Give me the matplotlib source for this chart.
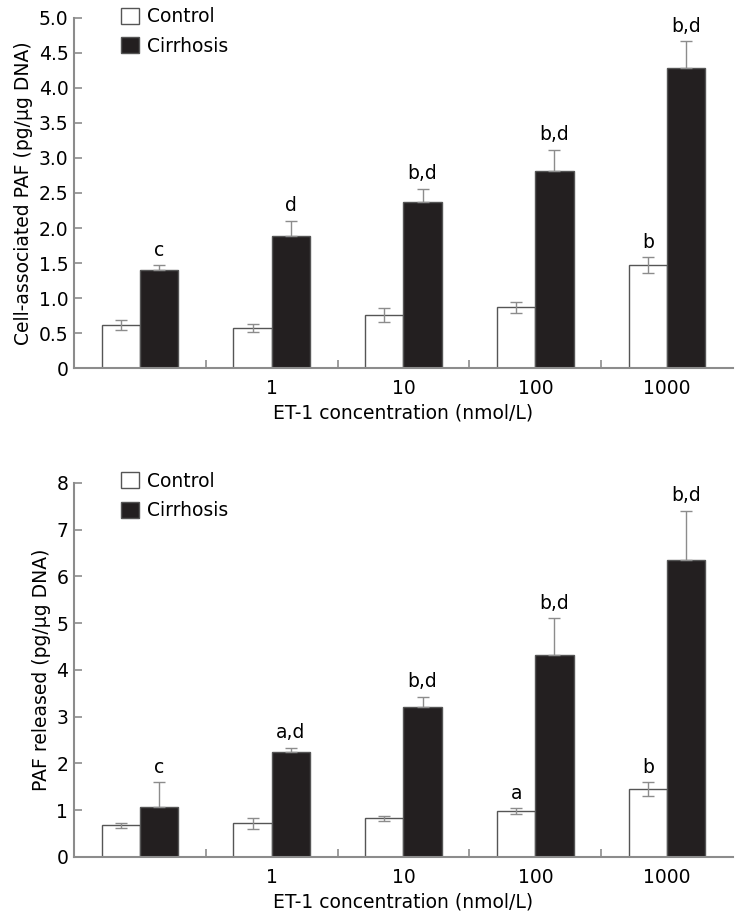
import matplotlib
matplotlib.use("Agg")
import matplotlib.pyplot as plt
import numpy as np

groups = ["", "1", "10", "100", "1000"]

# top panel: cell-associated PAF
top_control = [0.61, 0.57, 0.76, 0.87, 1.47]
top_control_err = [0.07, 0.06, 0.10, 0.08, 0.11]
top_cirr = [1.40, 1.89, 2.37, 2.81, 4.28]
top_cirr_err = [0.07, 0.21, 0.19, 0.31, 0.39]
top_control_lbl = ["", "", "", "", "b"]
top_cirr_lbl = ["c", "d", "b,d", "b,d", "b,d"]

# bottom panel: PAF released
bot_control = [0.68, 0.72, 0.83, 0.98, 1.45]
bot_control_err = [0.05, 0.12, 0.05, 0.06, 0.15]
bot_cirr = [1.07, 2.24, 3.20, 4.32, 6.35]
bot_cirr_err = [0.53, 0.10, 0.23, 0.79, 1.05]
bot_control_lbl = ["", "", "", "a", "b"]
bot_cirr_lbl = ["c", "a,d", "b,d", "b,d", "b,d"]

plt.rcParams['font.family'] = ['DejaVu Sans']
FS = 13.5

GRAY = "#8c8c8c"
BLACK = "#231f20"
W = 0.29


def panel(ax, control, control_err, cirr, cirr_err, c_lbl, r_lbl, ymax, yticks, yticklabels, ylabel):
    x = np.arange(len(groups))
    ax.bar(x - W / 2, control, W, color="white", edgecolor="#555555", linewidth=1.0,
           yerr=control_err, error_kw=dict(ecolor=GRAY, elinewidth=1.0, capsize=4, capthick=1.0),
           label="Control", zorder=2)
    ax.bar(x + W / 2, cirr, W, color=BLACK, edgecolor="#555555", linewidth=1.0,
           yerr=[np.zeros(len(cirr)), cirr_err],
           error_kw=dict(ecolor=GRAY, elinewidth=1.0, capsize=4, capthick=1.0),
           label="Cirrhosis", zorder=2)
    for i in range(len(groups)):
        if c_lbl[i]:
            ax.annotate(c_lbl[i], (x[i] - W / 2, control[i] + control_err[i]),
                        xytext=(0, 4), textcoords="offset points", ha="center", va="bottom", fontsize=FS)
        if r_lbl[i]:
            ax.annotate(r_lbl[i], (x[i] + W / 2, cirr[i] + cirr_err[i]),
                        xytext=(0, 4), textcoords="offset points", ha="center", va="bottom", fontsize=FS)

    ax.set_xlim(-0.5, len(groups) - 0.5)
    ax.set_ylim(0, ymax)
    ax.set_yticks(yticks)
    ax.set_yticklabels(yticklabels)
    ax.set_xticks(x)
    ax.set_xticklabels(groups)
    ax.set_xticks(np.arange(0.5, len(groups) - 1, 1.0), minor=True)
    ax.tick_params(axis="x", which="major", length=0, pad=8, labelsize=FS)
    ax.tick_params(axis="x", which="minor", direction="in", length=6, color=GRAY, width=1.2)
    ax.tick_params(axis="y", direction="in", length=6, color=GRAY, width=1.2, labelsize=FS, pad=4)
    for s in ["top", "right"]:
        ax.spines[s].set_visible(False)
    for s in ["left", "bottom"]:
        ax.spines[s].set_color(GRAY)
        ax.spines[s].set_linewidth(1.5)
    ax.set_xlabel("ET-1 concentration (nmol/L)", fontsize=FS, labelpad=4)
    ax.set_ylabel(ylabel, fontsize=FS, labelpad=4)
    ax.legend(loc="upper left", bbox_to_anchor=(0.071, 1.03), frameon=False, fontsize=FS,
              handlelength=0.95, handleheight=0.95, handletextpad=0.45, labelspacing=0.55,
              borderaxespad=0, borderpad=0)


fig = plt.figure(figsize=(7.39, 9.21), dpi=100)
ax1 = fig.add_axes([0.100, 0.6004, 0.892, 0.3801])
ax2 = fig.add_axes([0.100, 0.0695, 0.892, 0.4061])

panel(ax1, top_control, top_control_err, top_cirr, top_cirr_err, top_control_lbl, top_cirr_lbl,
      5.0, np.arange(0, 5.01, 0.5), ["0", "0.5", "1.0", "1.5", "2.0", "2.5", "3.0", "3.5", "4.0", "4.5", "5.0"],
      "Cell-associated PAF (pg/\u03bcg DNA)")
panel(ax2, bot_control, bot_control_err, bot_cirr, bot_cirr_err, bot_control_lbl, bot_cirr_lbl,
      8, np.arange(0, 9, 1), [str(v) for v in range(9)],
      "PAF released (pg/\u03bcg DNA)")

fig.savefig("out.png", dpi=100)
